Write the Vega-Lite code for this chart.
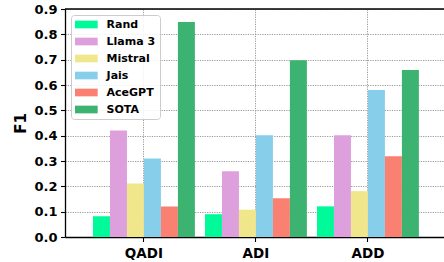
{
  "$schema": "https://vega.github.io/schema/vega-lite/v6.json",
  "width": 379,
  "height": 228,
  "autosize": "none",
  "padding": {"left": 65, "top": 9, "right": 0, "bottom": 25},
  "config": {
    "font": "DejaVu Sans",
    "view": {"stroke": null},
    "axis": {
      "domainColor": "black",
      "domainWidth": 1.3,
      "tickColor": "black",
      "tickWidth": 1.1,
      "tickSize": 4.5,
      "labelFont": "DejaVu Sans",
      "labelFontWeight": "bold",
      "labelFontSize": 13,
      "labelColor": "black",
      "gridColor": "#999999",
      "gridDash": [1.2, 1.2],
      "gridWidth": 1,
      "gridOpacity": 1,
      "zindex": 1
    }
  },
  "data": {
    "values": [
      {"dataset": "QADI", "model": "Rand", "f1": 0.082},
      {"dataset": "QADI", "model": "Llama 3", "f1": 0.42},
      {"dataset": "QADI", "model": "Mistral", "f1": 0.211},
      {"dataset": "QADI", "model": "Jais", "f1": 0.31},
      {"dataset": "QADI", "model": "AceGPT", "f1": 0.12},
      {"dataset": "QADI", "model": "SOTA", "f1": 0.849},
      {"dataset": "ADI", "model": "Rand", "f1": 0.09},
      {"dataset": "ADI", "model": "Llama 3", "f1": 0.26},
      {"dataset": "ADI", "model": "Mistral", "f1": 0.108},
      {"dataset": "ADI", "model": "Jais", "f1": 0.402},
      {"dataset": "ADI", "model": "AceGPT", "f1": 0.153},
      {"dataset": "ADI", "model": "SOTA", "f1": 0.698},
      {"dataset": "ADD", "model": "Rand", "f1": 0.121},
      {"dataset": "ADD", "model": "Llama 3", "f1": 0.402},
      {"dataset": "ADD", "model": "Mistral", "f1": 0.181},
      {"dataset": "ADD", "model": "Jais", "f1": 0.58},
      {"dataset": "ADD", "model": "AceGPT", "f1": 0.319},
      {"dataset": "ADD", "model": "SOTA", "f1": 0.659}
    ]
  },
  "layer": [
    {
      "mark": {"type": "bar"},
      "encoding": {
        "x": {
          "field": "dataset",
          "type": "nominal",
          "sort": ["QADI", "ADI", "ADD"],
          "scale": {"paddingInner": 0.09, "paddingOuter": 0.237, "align": 0.527},
          "axis": {
            "title": null,
            "labelAngle": 0,
            "bandPosition": 0.5,
            "tickExtra": false,
            "grid": true,
            "labelPadding": 5,
            "labelFontSize": 13.5
          }
        },
        "xOffset": {
          "field": "model",
          "type": "nominal",
          "sort": ["Rand", "Llama 3", "Mistral", "Jais", "AceGPT", "SOTA"],
          "scale": {"paddingInner": 0, "paddingOuter": 0}
        },
        "y": {
          "field": "f1",
          "type": "quantitative",
          "scale": {"domain": [0, 0.9], "nice": false},
          "axis": {
            "title": "F1",
            "titleFont": "DejaVu Sans",
            "titleFontWeight": "bold",
            "titleFontSize": 15,
            "titleColor": "black",
            "titlePadding": 5,
            "values": [0, 0.1, 0.2, 0.3, 0.4, 0.5, 0.6, 0.7, 0.8, 0.9],
            "format": ".1f",
            "labelPadding": 3.5,
            "grid": true
          }
        },
        "color": {
          "field": "model",
          "type": "nominal",
          "sort": ["Rand", "Llama 3", "Mistral", "Jais", "AceGPT", "SOTA"],
          "scale": {
            "domain": ["Rand", "Llama 3", "Mistral", "Jais", "AceGPT", "SOTA"],
            "range": ["#00FA9A", "#DDA0DD", "#F0E68C", "#87CEEB", "#FA8072", "#3CB371"]
          },
          "legend": {
            "orient": "none",
            "legendX": 6,
            "legendY": 6,
            "title": null,
            "padding": 4,
            "fillColor": "rgba(255,255,255,0.85)",
            "strokeColor": "#cccccc",
            "cornerRadius": 3,
            "symbolType": "M-2.06,-0.7H2.06V0.7H-2.06Z",
            "symbolSize": 121,
            "symbolStrokeWidth": 0,
            "symbolOpacity": 1,
            "symbolOffset": 5.85,
            "labelOffset": 14.7,
            "labelFont": "DejaVu Sans",
            "labelFontWeight": "bold",
            "labelFontSize": 11,
            "labelColor": "black",
            "rowPadding": 5
          }
        }
      }
    },
    {
      "data": {"values": [{"top": 0.9}]},
      "mark": {"type": "rule", "color": "black", "strokeWidth": 1.4, "clip": false},
      "encoding": {
        "y": {
          "field": "top",
          "type": "quantitative",
          "scale": {"domain": [0, 0.9], "nice": false},
          "axis": {
            "title": "F1",
            "titleFont": "DejaVu Sans",
            "titleFontWeight": "bold",
            "titleFontSize": 15,
            "titleColor": "black",
            "titlePadding": 5,
            "values": [0, 0.1, 0.2, 0.3, 0.4, 0.5, 0.6, 0.7, 0.8, 0.9],
            "format": ".1f",
            "labelPadding": 3.5,
            "grid": true
          }
        },
        "x": {"value": 0},
        "x2": {"value": {"expr": "width"}}
      }
    }
  ]
}
